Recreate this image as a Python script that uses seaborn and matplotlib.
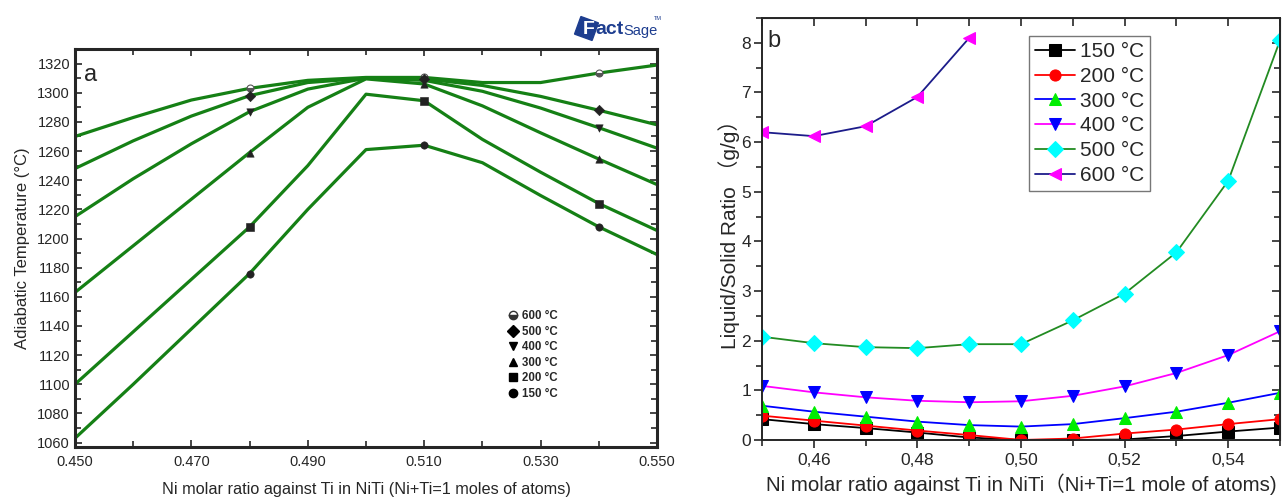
import numpy as np
import pandas as pd
import seaborn as sns
import matplotlib.pyplot as plt
from matplotlib.lines import Line2D
from matplotlib.ticker import MultipleLocator, FuncFormatter

sns.set_style("ticks")
plt.rcParams['font.family'] = ['Liberation Sans', 'Noto Sans CJK SC', 'DejaVu Sans']

# Ni molar ratio
ni_ratio = [0.45, 0.46, 0.47, 0.48, 0.49, 0.50, 0.51, 0.52, 0.53, 0.54, 0.55]
ticks_a = [0.450, 0.470, 0.490, 0.510, 0.530, 0.550]

# (a) adiabatic temperature, degC
temp_600 = [1270, 1283, 1295, 1303, 1308.5, 1310.5, 1310.5, 1307, 1307, 1313.5, 1319]
temp_500 = [1248, 1267, 1284, 1298, 1307, 1310, 1309.5, 1305, 1297.5, 1288, 1278]
temp_400 = [1215, 1241, 1265, 1287, 1302.5, 1310, 1308.5, 1301, 1289.5, 1276, 1262]
temp_300 = [1163, 1195, 1227, 1259, 1290, 1309.5, 1306, 1291, 1272.5, 1254.5, 1237]
temp_200 = [1100, 1136, 1172, 1208, 1250, 1299, 1294.5, 1268, 1245.5, 1224, 1205.5]
temp_150 = [1063, 1100, 1138, 1176, 1220, 1261, 1264, 1252, 1229.5, 1208, 1189]
marked_x = [0.48, 0.51, 0.54]

# (b) liquid/solid ratio, g/g
ratio_150 = [0.42, 0.32, 0.24, 0.15, 0.05, 0.0, 0.0, 0.01, 0.08, 0.17, 0.25]
ratio_200 = [0.49, 0.39, 0.29, 0.19, 0.10, 0.0, 0.03, 0.13, 0.21, 0.32, 0.42]
ratio_300 = [0.69, 0.57, 0.47, 0.37, 0.30, 0.27, 0.32, 0.44, 0.57, 0.75, 0.95]
ratio_400 = [1.09, 0.96, 0.86, 0.79, 0.76, 0.78, 0.89, 1.08, 1.35, 1.71, 2.19]
ratio_500 = [2.08, 1.95, 1.87, 1.85, 1.93, 1.93, 2.41, 2.95, 3.78, 5.22, 8.05]
ratio_600 = [6.20, 6.12, 6.32, 6.91, 8.10]

fig = plt.figure(figsize=(12.84, 4.97), dpi=100)
ax1 = fig.add_axes([0.0584, 0.1006, 0.4533, 0.8008])
ax2 = fig.add_axes([0.5935, 0.1147, 0.4034, 0.8491])

# ---- panel a ----
green = "#158015"
left_marks = {"600 °C": "o", "500 °C": "D", "400 °C": "v",
              "300 °C": "^", "200 °C": "s", "150 °C": "o"}
series_a = [("600 °C", temp_600), ("500 °C", temp_500), ("400 °C", temp_400),
            ("300 °C", temp_300), ("200 °C", temp_200), ("150 °C", temp_150)]
for lab, vals in series_a:
    df = pd.DataFrame({"x": ni_ratio, "y": vals})
    sns.lineplot(data=df, x="x", y="y", ax=ax1, color=green, lw=2.3)
    sub = df[df["x"].round(3).isin(marked_x)]
    if lab == "600 °C":
        ax1.plot(sub["x"], sub["y"], ls="none", marker="o", ms=5,
                 markerfacecolor="#555555", markerfacecoloralt="white",
                 fillstyle="bottom", mec="#555555", mew=0.8, zorder=3)
    else:
        sns.scatterplot(data=sub, x="x", y="y", ax=ax1, marker=left_marks[lab],
                        color="#222222", s=28, edgecolor="#222222", zorder=3)

ax1.set_xlim(0.45, 0.55)
ax1.set_ylim(1057, 1330)
ax1.set_xticks(ticks_a)
ax1.xaxis.set_minor_locator(MultipleLocator(0.01))
ax1.yaxis.set_major_locator(MultipleLocator(20))
ax1.yaxis.set_minor_locator(MultipleLocator(10))
ax1.xaxis.set_major_formatter(FuncFormatter(lambda v, p: f"{v:.3f}"))
ax1.tick_params(which="both", direction="in", top=True, right=True, labelsize=10.5)
ax1.tick_params(which="major", length=5, width=1.2)
ax1.tick_params(which="minor", length=4, width=1.2)
ax1.tick_params(axis="x", pad=6)
for s in ax1.spines.values():
    s.set_linewidth(2.2)
ax1.set_xlabel("Ni molar ratio against Ti in NiTi (Ni+Ti=1 moles of atoms)", fontsize=11.7, labelpad=9)
ax1.set_ylabel("Adiabatic Temperature (°C)", fontsize=12, labelpad=5)
ax1.text(0.015, 0.935, "a", transform=ax1.transAxes, fontsize=17, va="center")

handles_a = [Line2D([], [], ls="none", marker="o", ms=6, markerfacecolor="#333333",
                    markerfacecoloralt="white", fillstyle="bottom", mec="#333333")]
for lab in ["500 °C", "400 °C", "300 °C", "200 °C", "150 °C"]:
    handles_a.append(Line2D([], [], ls="none", marker=left_marks[lab], ms=6,
                            color="black"))
ax1.legend(handles_a, ["600 °C", "500 °C", "400 °C", "300 °C", "200 °C", "150 °C"],
           loc="upper left", bbox_to_anchor=(0.735, 0.358), frameon=False,
           prop={"size": 8.3, "weight": "bold"}, handlelength=0.8,
           handletextpad=0.4, labelspacing=0.3, borderpad=0)

# FactSage logo
navy = "#1d3d8f"
fig.add_artist(Line2D([0.4565], [0.944], marker=(4, 0, 25), ms=19, color=navy,
                      transform=fig.transFigure))
fig.text(0.4585, 0.940, "F", fontsize=14, fontweight="bold", color="white",
         ha="center", va="center")
fig.text(0.4635, 0.940, "act", fontsize=14, fontweight="bold", color=navy,
         ha="left", va="center")
fig.text(0.4855, 0.938, "Sage", fontsize=10.5, color=navy, ha="left", va="center")
fig.text(0.5095, 0.962, "TM", fontsize=4, color=navy, ha="left", va="center")

# ---- panel b ----
series_b = [
    ("150 °C", ni_ratio, ratio_150, "black", "s", "black"),
    ("200 °C", ni_ratio, ratio_200, "red", "o", "red"),
    ("300 °C", ni_ratio, ratio_300, "blue", "^", "#00ee00"),
    ("400 °C", ni_ratio, ratio_400, "magenta", "v", "blue"),
    ("500 °C", ni_ratio, ratio_500, "#228b22", "D", "cyan"),
    ("600 °C", ni_ratio[:len(ratio_600)], ratio_600, "#1c1c8a", "<", "magenta"),
]
for lab, xs, ys, lc, mk, mc in series_b:
    sns.lineplot(x=xs, y=ys, ax=ax2, color=lc, lw=1.3, marker=mk, markersize=8,
                 markerfacecolor=mc, markeredgecolor=mc, label=lab)

ax2.set_xlim(0.45, 0.55)
ax2.set_ylim(0, 8.5)
ax2.xaxis.set_major_locator(MultipleLocator(0.02))
ax2.xaxis.set_minor_locator(MultipleLocator(0.01))
ax2.yaxis.set_major_locator(MultipleLocator(1))
ax2.yaxis.set_minor_locator(MultipleLocator(0.5))
ax2.xaxis.set_major_formatter(FuncFormatter(lambda v, p: f"{v:.2f}".replace(".", ",")))
ax2.tick_params(which="both", direction="out", labelsize=12.5, width=1.2)
ax2.tick_params(which="major", length=6)
ax2.tick_params(which="minor", length=4)
ax2.tick_params(axis="y", pad=2)
for s in ax2.spines.values():
    s.set_linewidth(1.4)

top = ax2.secondary_xaxis("top")
top.xaxis.set_major_locator(MultipleLocator(0.01))
top.tick_params(direction="in", length=6, width=1.2, labeltop=False)
right = ax2.secondary_yaxis("right")
right.yaxis.set_major_locator(MultipleLocator(1))
right.yaxis.set_minor_locator(MultipleLocator(0.5))
right.tick_params(which="both", direction="in", width=1.2, labelright=False)
right.tick_params(which="major", length=6)
right.tick_params(which="minor", length=4)

ax2.set_xlabel("Ni molar ratio against Ti in NiTi（Ni+Ti=1 mole of atoms)", fontsize=14.8, labelpad=4)
ax2.set_ylabel("Liquid/Solid Ratio （g/g）", fontsize=15, labelpad=1)
ax2.text(0.01, 0.945, "b", transform=ax2.transAxes, fontsize=17, va="center")

ax2.legend(loc="upper left", bbox_to_anchor=(0.515, 0.958), fontsize=15,
           fancybox=False, edgecolor="#777777", framealpha=1, handlelength=1.9,
           handletextpad=0.25, labelspacing=0.28, borderpad=0.3, borderaxespad=0,
           markerscale=1.0)

fig.savefig("out.png", dpi=100)
